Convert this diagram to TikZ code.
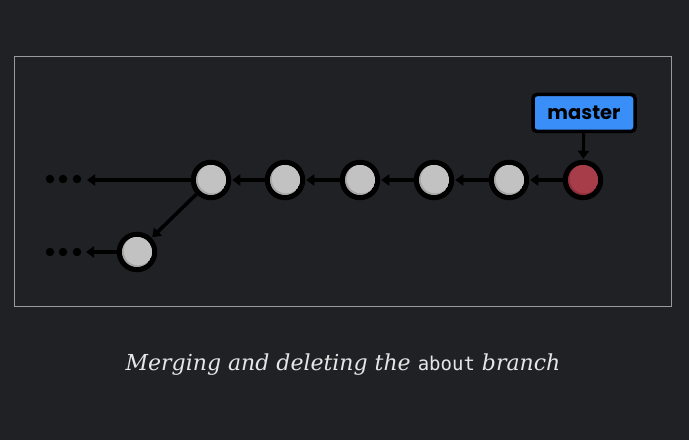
\documentclass[tikz,border=0pt]{standalone}
\usepackage{fontspec}
\setmainfont{DejaVu Serif}
\newfontfamily\captmono{DejaVu Sans Mono}
\newfontfamily\labelfont{Poppins}
\usetikzlibrary{arrows.meta}
\definecolor{bgc}{HTML}{202125}
\definecolor{framec}{HTML}{9A9A9A}
\definecolor{commitc}{HTML}{C2C2C2}
\definecolor{commitshade}{HTML}{A6A6A6}
\definecolor{headc}{HTML}{A83D4A}
\definecolor{headshade}{HTML}{8E2F3B}
\definecolor{branchc}{HTML}{3A8EF8}
\definecolor{captc}{HTML}{E6E6E6}
\tikzset{
  commit/.style={circle, draw=black, line width=5.5pt, fill=commitc, minimum size=35pt, inner sep=0pt},
  headcommit/.style={commit, fill=headc},
  link/.style={line width=3.5pt, draw=black, -{Triangle[length=8pt,width=11pt]}, shorten >=1pt},
  dot/.style={circle, fill=black, minimum size=8.5pt, inner sep=0pt},
  branchlabel/.style={draw=black, line width=3.5pt, fill=branchc, rounded corners=4pt, minimum width=102pt, minimum height=37pt, inner sep=0pt, font=\labelfont\bfseries\fontsize{19.5}{19.5}\selectfont, text=black},
}
\begin{document}
\begin{tikzpicture}[x=1pt,y=1pt]
\fill[bgc] (0,0) rectangle (689,440);
\useasboundingbox (0,0) rectangle (689,440);
\draw[framec, line width=1pt] (14.5,134) rectangle (671,383.5);
% commits
\node[commit] (c1) at (211,260) {};
\node[commit] (c2) at (285,260) {};
\node[commit] (c3) at (360,260) {};
\node[commit] (c4) at (434,260) {};
\node[commit] (c5) at (509,260) {};
\node[headcommit] (c6) at (583,260) {};
\node[commit] (b1) at (137,188) {};
% shading
\foreach \n in {c1,c2,c3,c4,c5,b1}{
  \begin{scope}
    \clip (\n.center) circle (15pt);
    \fill[commitshade] (\n.center) circle (15pt);
    \fill[commitc] ([shift={(1.2pt,1.2pt)}]\n.center) circle (14.5pt);
  \end{scope}
}
\begin{scope}
  \clip (c6.center) circle (15pt);
  \fill[headshade] (c6.center) circle (15pt);
  \fill[headc] ([shift={(1.2pt,1.2pt)}]c6.center) circle (14.5pt);
\end{scope}
% dots
\node[dot] (d1) at (50,261) {};
\node[dot] (d2) at (63,261) {};
\node[dot] (d3) at (77,261) {};
\node[dot] (e1) at (50,188) {};
\node[dot] (e2) at (63,188) {};
\node[dot] (e3) at (77,188) {};
\coordinate (ta) at (87,260);
\coordinate (tb) at (86,188);
% links
\draw[link] (c6) -- (c5);
\draw[link] (c5) -- (c4);
\draw[link] (c4) -- (c3);
\draw[link] (c3) -- (c2);
\draw[link] (c2) -- (c1);
\draw[link, shorten >=0pt] (c1) -- (ta);
\draw[link] (c1) -- (b1);
\draw[link, shorten >=0pt] (b1) -- (tb);
% master label
\node[branchlabel] (master) at (584,327) {master};
\draw[link, line width=3pt] (master) -- (c6);
% caption
\node[text=captc, font=\fontsize{22}{24}\selectfont, anchor=base] (cap) at (343,70) {\itshape Merging and deleting the {\upshape\captmono\fontsize{19}{24}\selectfont about} branch};
\end{tikzpicture}
\end{document}
